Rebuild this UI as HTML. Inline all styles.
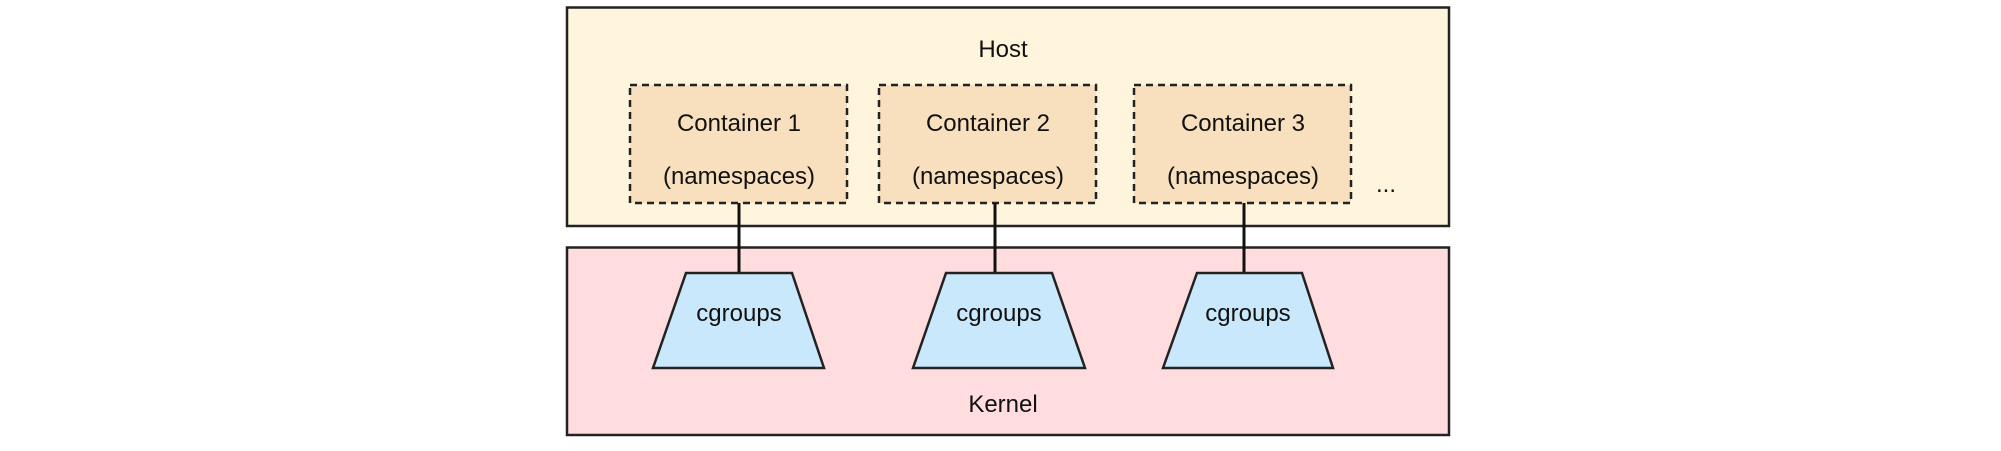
<!DOCTYPE html>
<html><head><style>
body{margin:0;background:#fff;width:2001px;height:446px;overflow:hidden}
text{font-family:"Liberation Sans",sans-serif;fill:#111;font-size:24px}
</style></head><body>
<svg width="2001" height="446" xmlns="http://www.w3.org/2000/svg">
<rect x="567" y="7.5" width="882" height="218.5" fill="#fff5dc" stroke="#222" stroke-width="2.5"/>
<rect x="567" y="247.5" width="882" height="187.5" fill="#ffdcdd" stroke="#222" stroke-width="2.5"/>
<text x="1003" y="57" text-anchor="middle">Host</text>
<text x="1003" y="412" text-anchor="middle">Kernel</text>
<g stroke="#222" stroke-width="2.5" stroke-dasharray="7,5" fill="#f8dfbd">
<rect x="630" y="85" width="217" height="118"/>
<rect x="879" y="85" width="217" height="118"/>
<rect x="1134" y="85" width="217" height="118"/>
</g>
<g stroke="#111" stroke-width="3">
<line x1="739" y1="203" x2="739" y2="273"/>
<line x1="995" y1="203" x2="995" y2="273"/>
<line x1="1244" y1="203" x2="1244" y2="273"/>
</g>
<g fill="#c9e8fb" stroke="#222" stroke-width="2.5">
<polygon points="686,273 792,273 824,368 653,368"/>
<polygon points="946,273 1052,273 1085,368 913,368"/>
<polygon points="1197,273 1302,273 1333,368 1163,368"/>
</g>
<g text-anchor="middle">
<text x="739" y="131">Container 1</text><text x="739" y="184">(namespaces)</text>
<text x="988" y="131">Container 2</text><text x="988" y="184">(namespaces)</text>
<text x="1243" y="131">Container 3</text><text x="1243" y="184">(namespaces)</text>
<text x="739" y="321">cgroups</text>
<text x="999" y="321">cgroups</text>
<text x="1248" y="321">cgroups</text>
<text x="1386" y="192">...</text>
</g>
</svg>
</body></html>
